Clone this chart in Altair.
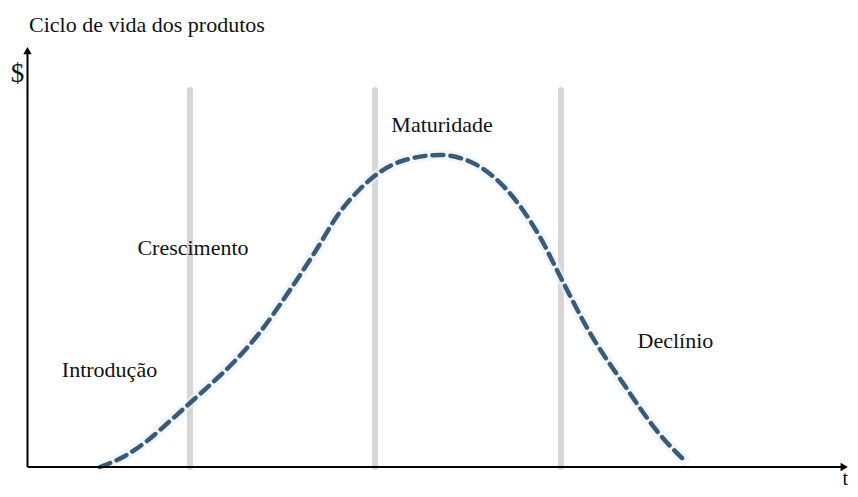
import altair as alt
import pandas as pd

# ---- data ----
curve_t = [8.76, 11.78, 14.44, 17.22, 19.64, 22.30, 24.83, 27.73, 31.72, 34.74, 37.76, 40.18,
           42.60, 45.62, 49.85, 53.84, 57.95, 61.93, 64.59, 67.98, 71.96, 76.07, 79.70]
curve_v = [0.0, 2.63, 6.21, 10.98, 15.27, 20.05, 24.82, 31.26, 42.24, 51.31, 60.86, 66.35,
           70.41, 73.27, 74.46, 72.55, 66.11, 54.89, 44.63, 31.98, 20.05, 8.59, 0.95]

phase_bounds = [19.64, 42.0, 64.47]
phase_top = 90

phase_names = ["Introdução", "Crescimento", "Maturidade", "Declínio"]
phase_label_t = [9.91, 20.0, 50.1, 78.3]
phase_label_v = [21.5, 50.6, 80.0, 28.4]

title_text = "Ciclo de vida dos produtos"
y_label = "$"
x_label = "t"

# ---- tables ----
curve = pd.DataFrame({"t": curve_t, "v": curve_v})
phases = pd.DataFrame({"t": phase_bounds, "v0": [0] * 3, "v1": [phase_top] * 3})
labels = pd.DataFrame({"t": phase_label_t, "v": phase_label_v, "txt": phase_names})

xs = alt.Scale(domain=[-2.356, 99.40], nice=False, zero=False)
ys = alt.Scale(domain=[-5.25, 109.55], nice=False, zero=False)
FONT = "Liberation Serif"

X = alt.X("t:Q", scale=xs, axis=None)

phase_rules = alt.Chart(phases).mark_rule(color="#d6d6d6", strokeWidth=6, strokeCap="round").encode(
    x=X,
    y=alt.Y("v0:Q", scale=ys, axis=None),
    y2="v1:Q",
)

glow = alt.Chart(curve).mark_line(color="#e2f0f8", strokeWidth=10, opacity=0.6,
                                  interpolate="monotone").encode(
    x=X, y=alt.Y("v:Q", scale=ys, axis=None),
)

line = alt.Chart(curve).mark_line(color="#3d5a74", strokeWidth=4.5, strokeDash=[11, 7],
                                  strokeCap="round", interpolate="monotone").encode(
    x=X, y=alt.Y("v:Q", scale=ys, axis=None),
)

axes_df = pd.DataFrame({"t": [0, 0], "t2": [98.3, 0], "v": [0, 0], "v2": [0, 99.0]})
axes = alt.Chart(axes_df).mark_rule(color="black", strokeWidth=2).encode(
    x=X,
    x2="t2:Q",
    y=alt.Y("v:Q", scale=ys, axis=None),
    y2="v2:Q",
)

arrow_x = alt.Chart(pd.DataFrame({"t": [98.7], "v": [0]})).mark_point(
    shape="triangle-right", filled=True, color="black", size=70, opacity=1).encode(
    x=X, y=alt.Y("v:Q", scale=ys, axis=None),
)
arrow_y = alt.Chart(pd.DataFrame({"t": [0], "v": [99.4]})).mark_point(
    shape="triangle-up", filled=True, color="black", size=70, opacity=1).encode(
    x=X, y=alt.Y("v:Q", scale=ys, axis=None),
)

phase_text = alt.Chart(labels).mark_text(font=FONT, fontSize=22, color="#111111",
                                         align="center", baseline="alphabetic").encode(
    x=X, y=alt.Y("v:Q", scale=ys, axis=None), text="txt:N",
)

misc = pd.DataFrame({
    "t": [0.18, -1.21, 98.5],
    "v": [103.9, 91.96, -4.4],
    "txt": [title_text, y_label, x_label],
})

title_mark = alt.Chart(misc.iloc[[0]]).mark_text(font=FONT, fontSize=22, color="#111111",
                                                align="left", baseline="alphabetic").encode(
    x=X, y=alt.Y("v:Q", scale=ys, axis=None), text="txt:N")
dollar_mark = alt.Chart(misc.iloc[[1]]).mark_text(font=FONT, fontSize=27, color="#111111",
                                                 align="center", baseline="alphabetic").encode(
    x=X, y=alt.Y("v:Q", scale=ys, axis=None), text="txt:N")
t_mark = alt.Chart(misc.iloc[[2]]).mark_text(font=FONT, fontSize=20, color="#111111",
                                            align="left", baseline="alphabetic").encode(
    x=X, y=alt.Y("v:Q", scale=ys, axis=None), text="txt:N")

chart = alt.layer(
    phase_rules, glow, line, axes, arrow_x, arrow_y, phase_text, title_mark, dollar_mark, t_mark
).properties(
    width=842, height=481,
    autosize=alt.AutoSizeParams(type="none"),
    padding=0,
    background="white",
).configure_view(stroke=None)

chart.save("out.html", embed_options={"renderer": "svg", "actions": False})
